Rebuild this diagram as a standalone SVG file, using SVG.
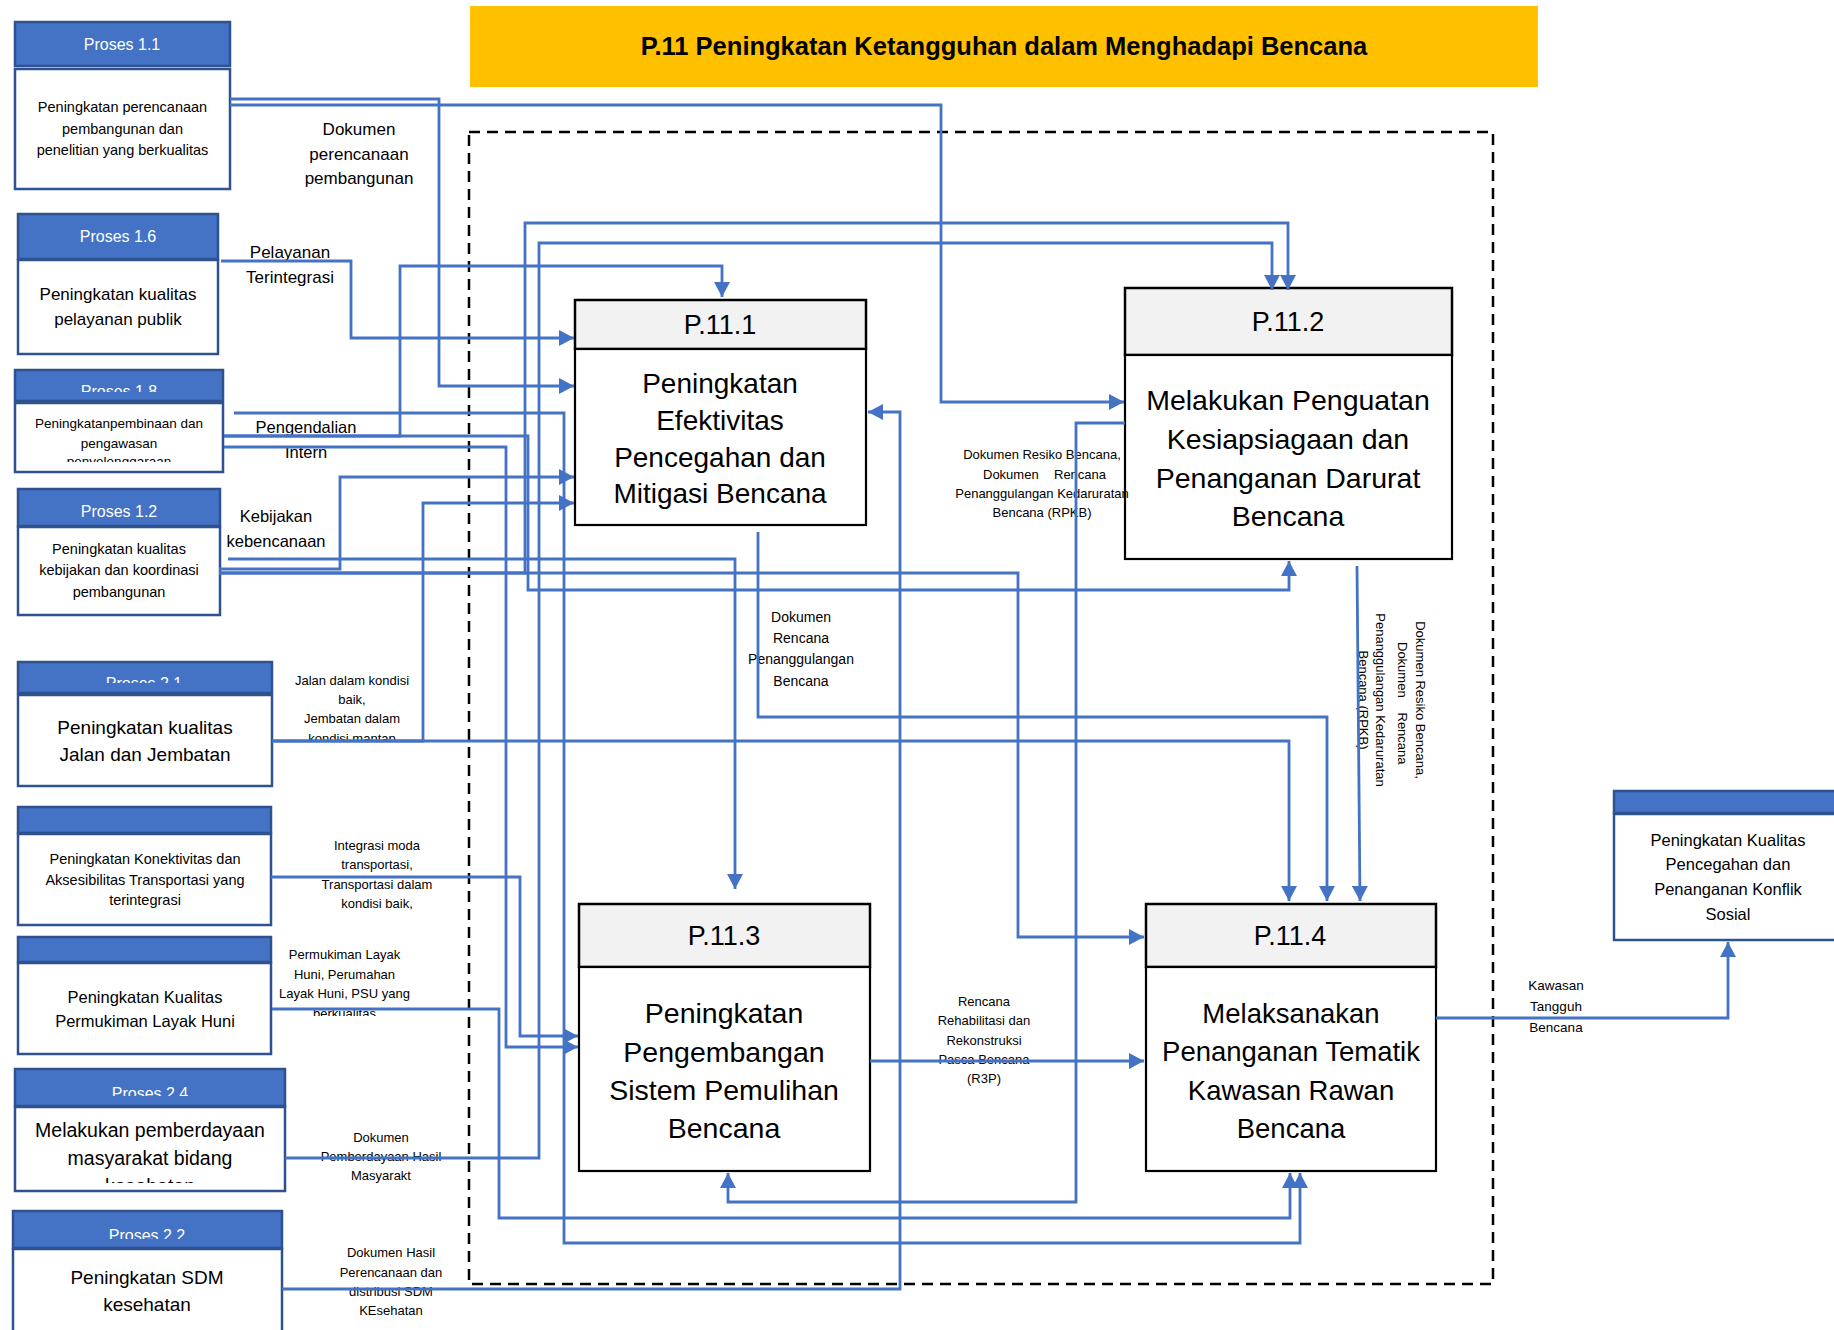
<svg xmlns="http://www.w3.org/2000/svg" width="1834" height="1330" viewBox="0 0 1834 1330">
<defs>
<style>
.hd{fill:#4472C4;stroke:#2F528F;stroke-width:2.5}
.bd{fill:#fff;stroke:#2F528F;stroke-width:2.5}
.ph{fill:#F2F2F2;stroke:#000;stroke-width:2.5}
.pb{fill:#fff;stroke:#000;stroke-width:2.2}
.ht{font-family:"Liberation Sans",Arial,sans-serif;fill:#fff;font-size:16px;text-anchor:middle}
.t{font-family:"Liberation Sans",Arial,sans-serif;fill:#000;text-anchor:middle}
.ts{font-family:"Liberation Sans",Arial,sans-serif;fill:#000}
.c{fill:none;stroke:#4472C4;stroke-width:2.8;marker-end:url(#ah)}
</style>
<marker id="ah" markerUnits="userSpaceOnUse" markerWidth="16" markerHeight="16" refX="15" refY="8" orient="auto">
<path d="M0,0 L15,8 L0,16 z" fill="#4472C4"/>
</marker>
<clipPath id="k18h"><rect x="15" y="370" width="208" height="22"/></clipPath>
<clipPath id="k18b"><rect x="15" y="403" width="208" height="59"/></clipPath>
<clipPath id="k21h"><rect x="18" y="662" width="254" height="21"/></clipPath>
<clipPath id="k24h"><rect x="15" y="1069" width="270" height="27"/></clipPath>
<clipPath id="k24b"><rect x="15" y="1107" width="270" height="76"/></clipPath>
<clipPath id="k22h"><rect x="13" y="1211" width="269" height="28"/></clipPath>
<clipPath id="kjal"><rect x="280" y="660" width="150" height="80"/></clipPath>
<clipPath id="kper"><rect x="270" y="940" width="150" height="76"/></clipPath>
</defs>
<rect width="1834" height="1330" fill="#fff"/>

<g id="title">
<rect x="470" y="6" width="1068" height="81" fill="#FFC000"/>
<text x="1004" y="55" class="t" font-size="25.5" font-weight="bold">P.11 Peningkatan Ketangguhan dalam Menghadapi Bencana</text>
</g>

<rect id="boundary" x="469" y="132" width="1024" height="1152" fill="none" stroke="#000" stroke-width="2.5" stroke-dasharray="11 7"/>

<g id="proses-1-1">
<rect class="hd" x="15" y="22" width="215" height="44"/>
<text class="ht" x="122" y="50">Proses 1.1</text>
<rect class="bd" x="15" y="69" width="215" height="120"/>
<text class="t" font-size="14.5" x="122.5" y="112">Peningkatan perencanaan</text>
<text class="t" font-size="14.5" x="122.5" y="133.5">pembangunan dan</text>
<text class="t" font-size="14.5" x="122.5" y="155">penelitian yang berkualitas</text>
</g>

<g id="proses-1-6">
<rect class="hd" x="18" y="214" width="200" height="45"/>
<text class="ht" x="118" y="242">Proses 1.6</text>
<rect class="bd" x="18" y="260" width="200" height="94"/>
<text class="t" font-size="17" x="118" y="300">Peningkatan kualitas</text>
<text class="t" font-size="17" x="118" y="325">pelayanan publik</text>
</g>

<g id="proses-1-8">
<rect class="hd" x="15" y="370" width="208" height="31"/>
<text class="ht" x="119" y="397" clip-path="url(#k18h)">Proses 1.8</text>
<rect class="bd" x="15" y="403" width="208" height="69"/>
<g clip-path="url(#k18b)">
<text class="t" font-size="13.5" x="119" y="428">Peningkatanpembinaan dan</text>
<text class="t" font-size="13.5" x="119" y="448">pengawasan</text>
<text class="t" font-size="13.5" x="119" y="466">penyelenggaraan</text>
</g>
</g>

<g id="proses-1-2">
<rect class="hd" x="18" y="489" width="202" height="37"/>
<text class="ht" x="119" y="517">Proses 1.2</text>
<rect class="bd" x="18" y="527" width="202" height="88"/>
<text class="t" font-size="14.5" x="119" y="554">Peningkatan kualitas</text>
<text class="t" font-size="14.5" x="119" y="575">kebijakan dan koordinasi</text>
<text class="t" font-size="14.5" x="119" y="597">pembangunan</text>
</g>

<g id="proses-2-1">
<rect class="hd" x="18" y="662" width="254" height="31"/>
<text class="ht" x="144" y="689" clip-path="url(#k21h)">Proses 2.1</text>
<rect class="bd" x="18" y="695" width="254" height="91"/>
<text class="t" font-size="19" x="145" y="734">Peningkatan kualitas</text>
<text class="t" font-size="19" x="145" y="761">Jalan dan Jembatan</text>
</g>

<g id="konektivitas">
<rect class="hd" x="18" y="807" width="253" height="26"/>
<rect class="bd" x="18" y="834" width="253" height="91"/>
<text class="t" font-size="14.5" x="145" y="864">Peningkatan Konektivitas dan</text>
<text class="t" font-size="14.5" x="145" y="885">Aksesibilitas Transportasi yang</text>
<text class="t" font-size="14.5" x="145" y="905">terintegrasi</text>
</g>

<g id="permukiman">
<rect class="hd" x="18" y="937" width="253" height="25"/>
<rect class="bd" x="18" y="963" width="253" height="91"/>
<text class="t" font-size="16.5" x="145" y="1003">Peningkatan Kualitas</text>
<text class="t" font-size="16.5" x="145" y="1027">Permukiman Layak Huni</text>
</g>

<g id="proses-2-4">
<rect class="hd" x="15" y="1069" width="270" height="37"/>
<text class="ht" font-size="18.5" x="150" y="1099" clip-path="url(#k24h)">Proses 2.4</text>
<rect class="bd" x="15" y="1107" width="270" height="84"/>
<g clip-path="url(#k24b)">
<text class="t" font-size="19.5" x="150" y="1137">Melakukan pemberdayaan</text>
<text class="t" font-size="19.5" x="150" y="1165">masyarakat bidang</text>
<text class="t" font-size="19.5" x="150" y="1193">kesehatan</text>
</g>
</g>

<g id="proses-2-2">
<rect class="hd" x="13" y="1211" width="269" height="37"/>
<text class="ht" font-size="18.5" x="147" y="1241" clip-path="url(#k22h)">Proses 2.2</text>
<rect class="bd" x="13" y="1249" width="269" height="100"/>
<text class="t" font-size="19" x="147" y="1284">Peningkatan SDM</text>
<text class="t" font-size="19" x="147" y="1311">kesehatan</text>
</g>

<g id="konflik-sosial">
<rect class="hd" x="1614" y="791" width="230" height="22"/>
<rect class="bd" x="1614" y="814" width="230" height="126"/>
<text class="t" font-size="16.5" x="1728" y="846">Peningkatan Kualitas</text>
<text class="t" font-size="16.5" x="1728" y="870">Pencegahan dan</text>
<text class="t" font-size="16.5" x="1728" y="895">Penanganan Konflik</text>
<text class="t" font-size="16.5" x="1728" y="920">Sosial</text>
</g>

<g id="p11-1">
<rect class="ph" x="575" y="300" width="291" height="49"/>
<text class="t" font-size="27" x="720" y="334">P.11.1</text>
<rect class="pb" x="575" y="349" width="291" height="176"/>
<text class="t" font-size="28" x="720" y="392.5">Peningkatan</text>
<text class="t" font-size="28" x="720" y="429.5">Efektivitas</text>
<text class="t" font-size="28" x="720" y="466.5">Pencegahan dan</text>
<text class="t" font-size="28" x="720" y="502.5">Mitigasi Bencana</text>
</g>

<g id="p11-2">
<rect class="ph" x="1125" y="288" width="327" height="67"/>
<text class="t" font-size="27" x="1288" y="331">P.11.2</text>
<rect class="pb" x="1125" y="355" width="327" height="204"/>
<text class="t" font-size="28.5" x="1288" y="409.5">Melakukan Penguatan</text>
<text class="t" font-size="28.5" x="1288" y="448.5">Kesiapsiagaan dan</text>
<text class="t" font-size="28.5" x="1288" y="487.5">Penanganan Darurat</text>
<text class="t" font-size="28.5" x="1288" y="525.5">Bencana</text>
</g>

<g id="p11-3">
<rect class="ph" x="579" y="904" width="291" height="63"/>
<text class="t" font-size="27" x="724" y="945">P.11.3</text>
<rect class="pb" x="579" y="967" width="291" height="204"/>
<text class="t" font-size="28.5" x="724" y="1022.5">Peningkatan</text>
<text class="t" font-size="28.5" x="724" y="1061.5">Pengembangan</text>
<text class="t" font-size="28.5" x="724" y="1099.5">Sistem Pemulihan</text>
<text class="t" font-size="28.5" x="724" y="1137.5">Bencana</text>
</g>

<g id="p11-4">
<rect class="ph" x="1146" y="904" width="290" height="63"/>
<text class="t" font-size="27" x="1290" y="945">P.11.4</text>
<rect class="pb" x="1146" y="967" width="290" height="204"/>
<text class="t" font-size="27.5" x="1291" y="1022.5">Melaksanakan</text>
<text class="t" font-size="27.5" x="1291" y="1060.5">Penanganan Tematik</text>
<text class="t" font-size="27.5" x="1291" y="1099.5">Kawasan Rawan</text>
<text class="t" font-size="27.5" x="1291" y="1137.5">Bencana</text>
</g>

<g id="labels">
<text class="t" font-size="17" x="359" y="135">Dokumen</text>
<text class="t" font-size="17" x="359" y="160">perencanaan</text>
<text class="t" font-size="17" x="359" y="184">pembangunan</text>
<text class="t" font-size="17" x="290" y="258">Pelayanan</text>
<text class="t" font-size="17" x="290" y="283">Terintegrasi</text>
<text class="t" font-size="16.5" x="306" y="433">Pengendalian</text>
<text class="t" font-size="16.5" x="306" y="458">Intern</text>
<text class="t" font-size="16.5" x="276" y="522">Kebijakan</text>
<text class="t" font-size="16.5" x="276" y="547">kebencanaan</text>
<g clip-path="url(#kjal)">
<text class="t" font-size="13" x="352" y="685">Jalan dalam kondisi</text>
<text class="t" font-size="13" x="352" y="704">baik,</text>
<text class="t" font-size="13" x="352" y="723">Jembatan dalam</text>
<text class="t" font-size="13" x="352" y="743">kondisi mantap</text>
</g>
<text class="t" font-size="13" x="377" y="850">Integrasi moda</text>
<text class="t" font-size="13" x="377" y="869">transportasi,</text>
<text class="t" font-size="13" x="377" y="889">Transportasi dalam</text>
<text class="t" font-size="13" x="377" y="908">kondisi baik,</text>
<g clip-path="url(#kper)">
<text class="t" font-size="13" x="344.5" y="959">Permukiman Layak</text>
<text class="t" font-size="13" x="344.5" y="979">Huni, Perumahan</text>
<text class="t" font-size="13" x="344.5" y="998">Layak Huni, PSU yang</text>
<text class="t" font-size="13" x="344.5" y="1017.5">berkualitas</text>
</g>
<text class="t" font-size="13" x="381" y="1142">Dokumen</text>
<text class="t" font-size="13" x="381" y="1161">Pemberdayaan Hasil</text>
<text class="t" font-size="13" x="381" y="1180">Masyarakt</text>
<text class="t" font-size="13" x="391" y="1257">Dokumen Hasil</text>
<text class="t" font-size="13" x="391" y="1277">Perencanaan dan</text>
<text class="t" font-size="13" x="391" y="1296">distribusi SDM</text>
<text class="t" font-size="13" x="391" y="1315">KEsehatan</text>
<text class="t" font-size="14" x="801" y="622">Dokumen</text>
<text class="t" font-size="14" x="801" y="643">Rencana</text>
<text class="t" font-size="14" x="801" y="664">Penanggulangan</text>
<text class="t" font-size="14" x="801" y="686">Bencana</text>
<text class="t" font-size="13" x="1042" y="459">Dokumen Resiko Bencana,</text>
<text class="ts" font-size="13" x="983" y="479">Dokumen</text>
<text class="ts" font-size="13" x="1054" y="479">Rencana</text>
<text class="t" font-size="13" x="1042" y="498">Penanggulangan Kedaruratan</text>
<text class="t" font-size="13" x="1042" y="517">Bencana (RPKB)</text>
<g transform="translate(1391,700) rotate(90)">
<text class="t" font-size="13" x="0" y="-24.5">Dokumen Resiko Bencana,</text>
<text class="ts" font-size="13" x="-58" y="-6.5">Dokumen</text>
<text class="ts" font-size="13" x="12.5" y="-6.5">Rencana</text>
<text class="t" font-size="13" x="0" y="15.5">Penanggulangan Kedaruratan</text>
<text class="t" font-size="13" x="0" y="32.5">Bencana (RPKB)</text>
</g>
<text class="t" font-size="13" x="984" y="1006">Rencana</text>
<text class="t" font-size="13" x="984" y="1025">Rehabilitasi  dan</text>
<text class="t" font-size="13" x="984" y="1045">Rekonstruksi</text>
<text class="t" font-size="13" x="984" y="1064">Pasca  Bencana</text>
<text class="t" font-size="13" x="984" y="1083">(R3P)</text>
<text class="t" font-size="13.5" x="1556" y="990">Kawasan</text>
<text class="t" font-size="13.5" x="1556" y="1011">Tangguh</text>
<text class="t" font-size="13.5" x="1556" y="1032">Bencana</text>
</g>

<g id="connectors">
<path class="c" d="M230,99 H439 V386 H574"/>
<path class="c" d="M230,105 H941 V402 H1124"/>
<path class="c" d="M221,261 H351 V338 H574"/>
<path class="c" d="M224,436 H400 V266 H722 V297"/>
<path class="c" d="M224,436 H528 V590 H1289 V561"/>
<path class="c" d="M234,413 H564 V1243 H1300 V1173"/>
<path class="c" d="M224,447 H506 V1047 H578"/>
<path class="c" d="M219,569 H340 V477 H574"/>
<path class="c" d="M228,559 H735 V889"/>
<path class="c" d="M219,573 H525 V223 H1288 V290"/>
<path class="c" d="M219,573 H1018 V937 H1144"/>
<path class="c" d="M272,741 H423 V503 H574"/>
<path class="c" d="M272,741 H1289 V901"/>
<path class="c" d="M271,877 H520 V1036 H578"/>
<path class="c" d="M272,1009 H499 V1218 H1290 V1173"/>
<path class="c" d="M285,1158 H539 V243 H1272 V290"/>
<path class="c" d="M282,1289 H900 V412 H868"/>
<path class="c" d="M758,532 V717 H1327 V901"/>
<path class="c" d="M1125,423 H1076 V1202 H728 V1173"/>
<path class="c" d="M1357,566 L1360,901"/>
<path class="c" d="M870,1061 H1144"/>
<path class="c" d="M1436,1018 H1728 V942"/>
</g>
</svg>
